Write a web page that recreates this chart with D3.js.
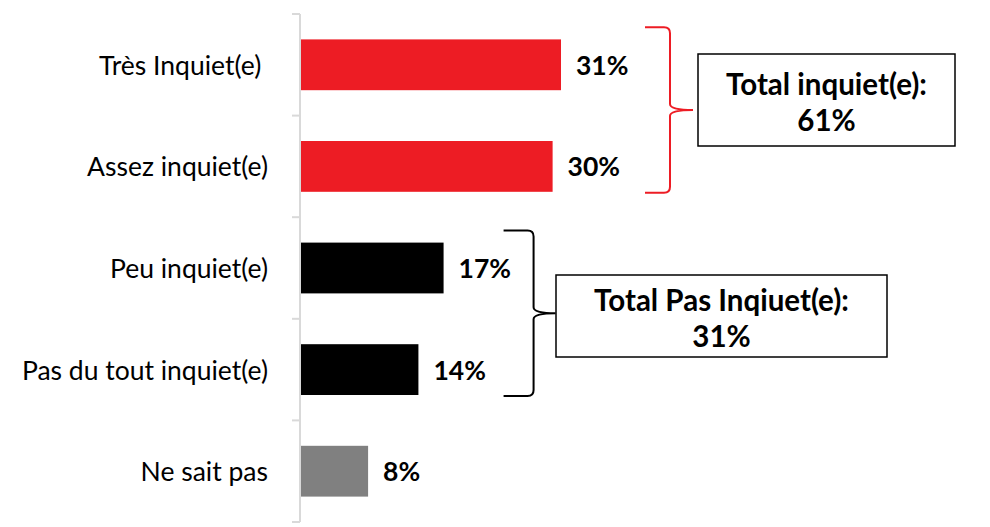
<!DOCTYPE html>
<html><head><meta charset="utf-8">
<script src="https://cdn.jsdelivr.net/npm/d3@7"></script>
<style>body{margin:0;background:#fff}svg{display:block}</style>
</head><body>
<script>
const categories = ["Très Inquiet(e) ", "Assez inquiet(e)", "Peu inquiet(e)", "Pas du tout inquiet(e)", "Ne sait pas"];
const values = [31, 30, 17, 14, 8];
const colors = ["#ED1C24", "#ED1C24", "#000000", "#000000", "#808080"];
const groupLabels = [["Total inquiet(e):", "61%"], ["Total Pas Inqiuet(e):", "31%"]];

const W = 990, H = 527;
const svg = d3.select("body").append("svg").attr("width", W).attr("height", H);
const font = "Lato, 'Open Sans', sans-serif";

const y = d3.scaleBand().domain(categories).range([14, 522]).paddingInner(0.5).paddingOuter(0.25);
const x = d3.scaleLinear().domain([0, 31]).range([301, 561]);
const step = y.step();

// axis line and ticks
const ax = svg.append("g");
ax.append("line").attr("x1", 300).attr("x2", 300).attr("y1", 14).attr("y2", 522)
  .attr("stroke", "#d9d9d9").attr("stroke-width", 2);
d3.range(categories.length + 1).forEach(i => {
  const yy = 14 + i * step;
  ax.append("line").attr("x1", 292).attr("x2", 300).attr("y1", yy).attr("y2", yy)
    .attr("stroke", "#d9d9d9").attr("stroke-width", 2);
});

// category labels
svg.selectAll("text.cat").data(categories).join("text").attr("class", "cat")
  .attr("x", 268).attr("y", d => y(d) + y.bandwidth() / 2)
  .attr("text-anchor", "end").attr("dominant-baseline", "central")
  .attr("font-family", font).attr("font-size", 26.5).attr("fill", "#000")
  .style("white-space", "pre").text(d => d);

// bars
svg.selectAll("rect.bar").data(values).join("rect").attr("class", "bar")
  .attr("x", x(0)).attr("y", (d, i) => y(categories[i]))
  .attr("width", d => x(d) - x(0)).attr("height", y.bandwidth())
  .attr("fill", (d, i) => colors[i]);

// value labels
svg.selectAll("text.val").data(values).join("text").attr("class", "val")
  .attr("x", d => x(d) + 15).attr("y", (d, i) => y(categories[i]) + y.bandwidth() / 2)
  .attr("dominant-baseline", "central")
  .attr("font-family", font).attr("font-weight", "bold").attr("font-size", 26.5).attr("fill", "#000")
  .text(d => d + "%");

// braces
function brace(xl, xr, tip, top, bot, r) {
  const mid = (top + bot) / 2;
  return `M${xl},${top} L${xr - r},${top} Q${xr},${top} ${xr},${top + r} L${xr},${mid - r} Q${xr},${mid} ${tip},${mid}` +
         ` Q${xr},${mid} ${xr},${mid + r} L${xr},${bot - r} Q${xr},${bot} ${xr - r},${bot} L${xl},${bot}`;
}
const groups = [
  { idx: [0, 1], color: "#ED1C24", xl: x(31) + 84, xr: x(31) + 109, tip: x(31) + 132,
    box: [698, 54, 955, 146] },
  { idx: [2, 3], color: "#000000", xl: x(17) + 60, xr: x(17) + 90, tip: x(17) + 112,
    box: [556, 275, 887, 357] }
];
groups.forEach((g, gi) => {
  const top = y(categories[g.idx[0]]) - step * 0.12;
  const bot = y(categories[g.idx[1]]) + y.bandwidth() + step * 0.01;
  svg.append("path").attr("d", brace(g.xl, g.xr, g.tip, top, bot, 6))
    .attr("fill", "none").attr("stroke", g.color).attr("stroke-width", 2);
  const [bx0, by0, bx1, by1] = g.box;
  svg.append("rect").attr("x", bx0).attr("y", by0).attr("width", bx1 - bx0).attr("height", by1 - by0)
    .attr("fill", "#fff").attr("stroke", "#000").attr("stroke-width", 1.5);
  const cx = (bx0 + bx1) / 2, cy = (by0 + by1) / 2;
  groupLabels[gi].forEach((t, li) => {
    svg.append("text").attr("x", cx).attr("y", cy + (li === 0 ? -17 : 19))
      .attr("text-anchor", "middle").attr("dominant-baseline", "central")
      .attr("font-family", font).attr("font-weight", "bold").attr("font-size", 29.5).attr("fill", "#000")
      .text(t);
  });
});
</script>
</body></html>
